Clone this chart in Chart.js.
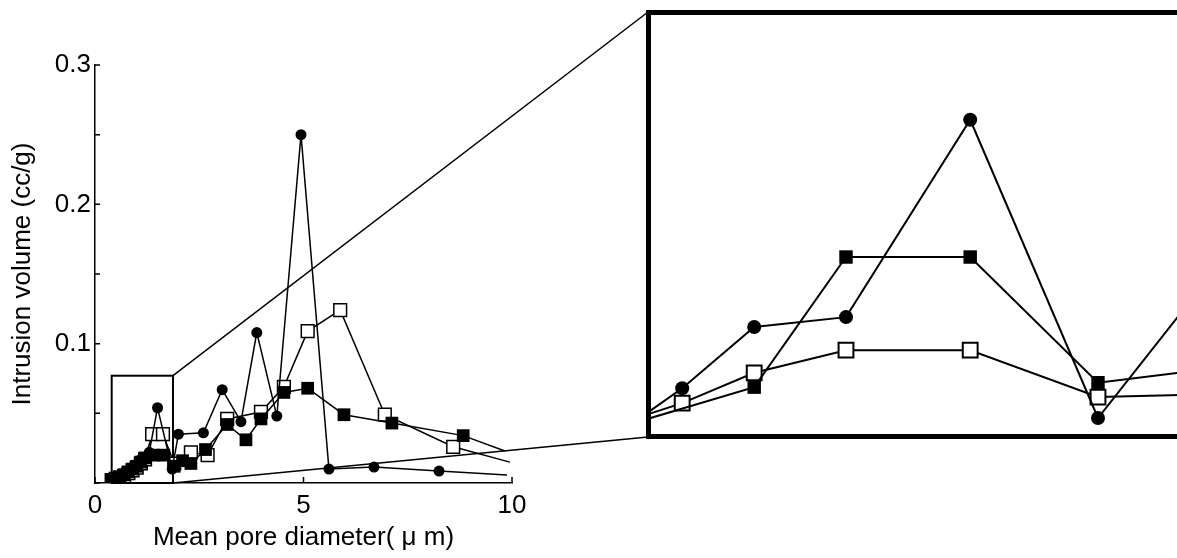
<!DOCTYPE html>
<html>
<head>
<meta charset="utf-8">
<script src="https://cdn.jsdelivr.net/npm/chart.js@4"></script>
<style>
    html, body { margin: 0; padding: 0; background: #fff; width: 1177px; height: 558px; overflow: hidden; position: relative; }
    #main { position: absolute; left: 0; top: 0; }
    #insetBox { position: absolute; left: 646px; top: 10px; width: 640px; height: 419px; border: 5px solid #000; border-right: none; background: #fff; }
    #inset { position: absolute; left: 0; top: 0; }
</style>
</head>
<body>
<canvas id="main" width="1177" height="558"></canvas>
<div id="insetBox"><canvas id="inset" width="600" height="419"></canvas></div>
<script>
// main chart - filled circles
var circleX = [0.4, 0.5, 0.6, 0.7, 0.8, 0.9, 1.0, 1.1, 1.3, 1.5, 1.85, 2.0, 2.6, 3.05, 3.5, 3.88, 4.36, 4.94, 5.61, 6.69, 8.25, 9.88];
var circleY = [0.003, 0.004, 0.005, 0.006, 0.008, 0.010, 0.013, 0.017, 0.022, 0.054, 0.010, 0.035, 0.036, 0.067, 0.044, 0.108, 0.048, 0.250, 0.010, 0.0114, 0.0086, 0.0057];

// main chart - filled squares
var filledX = [0.4, 0.5, 0.6, 0.7, 0.8, 0.9, 1.0, 1.1, 1.2, 1.4, 1.65, 1.9, 2.1, 2.3, 2.65, 3.17, 3.62, 3.98, 4.53, 5.1, 5.97, 7.12, 8.83, 9.83];
var filledY = [0.002, 0.003, 0.004, 0.006, 0.008, 0.010, 0.012, 0.015, 0.018, 0.020, 0.020, 0.012, 0.016, 0.014, 0.024, 0.042, 0.031, 0.046, 0.065, 0.068, 0.049, 0.043, 0.034, 0.023];

// main chart - open squares
var openX = [0.4, 0.5, 0.6, 0.7, 0.8, 0.9, 1.0, 1.1, 1.2, 1.37, 1.63, 1.9, 2.3, 2.7, 3.17, 3.98, 4.53, 5.1, 5.88, 6.95, 8.59, 9.95];
var openY = [0.002, 0.003, 0.004, 0.005, 0.007, 0.009, 0.011, 0.014, 0.017, 0.035, 0.035, 0.014, 0.022, 0.020, 0.046, 0.051, 0.069, 0.109, 0.124, 0.049, 0.026, 0.015];

// zoom box on the main chart
var boxX = [0.40, 1.87];
var boxY = [0, 0.077];

// enlarged panel (schematic)
var insetCircleX = [-0.5, 0.52, 1.72, 3.25, 5.32, 7.45, 9.0];
var insetCircleY = [0.0005, 0.0083, 0.0194, 0.0212, 0.0570, 0.0029, 0.0243];
var insetFilledX = [-0.5, 1.72, 3.25, 5.32, 7.45, 9.0];
var insetFilledY = [0.0013, 0.0085, 0.0321, 0.0321, 0.0093, 0.0114];
var insetOpenX = [-0.5, 0.52, 1.72, 3.25, 5.32, 7.45, 9.0];
var insetOpenY = [0.0020, 0.0056, 0.0111, 0.0152, 0.0152, 0.0067, 0.0071];

function pares(xs, ys) {
    var r = [];
    for (let i = 0; i < xs.length; i++) {
        r.push({ x: xs[i], y: ys[i] });
    }
    return r;
}

// last point of each main series only carries the line to the edge
function raios(n, r) {
    var a = [];
    for (let i = 0; i < n; i++) a.push(i == n - 1 ? 0 : r);
    return a;
}

Chart.defaults.font.family = "'Liberation Sans', Arial, sans-serif";
Chart.defaults.color = '#000';

const ticksInternos = {
    id: 'ticksInternos',
    beforeDatasetsDraw(chart) {
        const ctx = chart.ctx;
        const xs = chart.scales.x;
        const ys = chart.scales.y;
        ctx.save();
        ctx.strokeStyle = '#000';
        ctx.lineWidth = 1.5;
        ctx.beginPath();
        xs.ticks.forEach(function (t) {
            var px = xs.getPixelForValue(t.value);
            ctx.moveTo(px, ys.bottom);
            ctx.lineTo(px, ys.bottom - 6);
        });
        ys.ticks.forEach(function (t) {
            var py = ys.getPixelForValue(t.value);
            ctx.moveTo(xs.left, py);
            ctx.lineTo(xs.left + 5, py);
        });
        ctx.stroke();

        // zoom box
        var x1 = xs.getPixelForValue(boxX[0]);
        var x2 = xs.getPixelForValue(boxX[1]);
        var y1 = ys.getPixelForValue(boxY[1]);
        var y2 = ys.getPixelForValue(boxY[0]);
        ctx.lineWidth = 2;
        ctx.strokeRect(x1, y1, x2 - x1, y2 - y1);

        // lines to the enlarged panel
        var caixa = document.getElementById('insetBox');
        var cx = caixa.offsetLeft + 2;
        var cTop = caixa.offsetTop + 2;
        var cBottom = caixa.offsetTop + caixa.offsetHeight - 2;
        ctx.lineWidth = 1.5;
        ctx.beginPath();
        ctx.moveTo(x2, y1);
        ctx.lineTo(cx, cTop);
        ctx.moveTo(x2, y2);
        ctx.lineTo(cx, cBottom);
        ctx.stroke();
        ctx.restore();
    }
};

new Chart(document.getElementById('main'), {
    type: 'line',
    data: {
        datasets: [
            {
                label: 'circles',
                data: pares(circleX, circleY),
                borderColor: '#000',
                backgroundColor: '#000',
                borderWidth: 1.5,
                pointStyle: 'circle',
                pointRadius: raios(circleX.length, 5.5),
                pointBorderWidth: 0,
                tension: 0,
                order: 0
            },
            {
                label: 'filled squares',
                data: pares(filledX, filledY),
                borderColor: '#000',
                backgroundColor: '#000',
                borderWidth: 1.5,
                pointStyle: 'rect',
                pointRadius: raios(filledX.length, 9),
                pointBorderWidth: 0,
                tension: 0,
                order: 1
            },
            {
                label: 'open squares',
                data: pares(openX, openY),
                borderColor: '#000',
                backgroundColor: '#fff',
                pointBackgroundColor: '#fff',
                borderWidth: 1.5,
                pointStyle: 'rect',
                pointRadius: raios(openX.length, 9),
                pointBorderWidth: 1.5,
                tension: 0,
                order: 2
            }
        ]
    },
    options: {
        responsive: false,
        animation: false,
        events: [],
        layout: { autoPadding: false, padding: { top: 65, right: 665, left: 0, bottom: 0 } },
        plugins: { legend: { display: false }, tooltip: { enabled: false } },
        scales: {
            x: {
                type: 'linear',
                min: 0,
                max: 10,
                grid: { display: false, drawTicks: false },
                border: { display: true, color: '#000', width: 1.5 },
                ticks: { stepSize: 5, padding: 7, font: { size: 26 } },
                title: { display: true, text: 'Mean pore diameter( μ m)', font: { size: 26 }, padding: { top: 0, bottom: 5 } },
                afterFit: function (s) { s.height = 75; }
            },
            y: {
                type: 'linear',
                min: 0,
                max: 0.3,
                grid: { display: false, drawTicks: false },
                border: { display: true, color: '#000', width: 1.5 },
                ticks: {
                    stepSize: 0.05,
                    padding: 4,
                    font: { size: 26 },
                    callback: function (v) {
                        var d = Math.round(v * 100);
                        return (d > 0 && d % 10 == 0) ? (d / 100).toFixed(1) : '';
                    }
                },
                title: { display: true, text: 'Intrusion volume (cc/g)', font: { size: 26 }, padding: { top: 7, bottom: 0 } },
                afterFit: function (s) { s.width = 95; }
            }
        }
    },
    plugins: [ticksInternos]
});

new Chart(document.getElementById('inset'), {
    type: 'line',
    data: {
        datasets: [
            {
                label: 'circles',
                data: pares(insetCircleX, insetCircleY),
                borderColor: '#000',
                backgroundColor: '#000',
                borderWidth: 2,
                pointStyle: 'circle',
                pointRadius: 7,
                pointBorderWidth: 0,
                tension: 0,
                order: 0
            },
            {
                label: 'filled squares',
                data: pares(insetFilledX, insetFilledY),
                borderColor: '#000',
                backgroundColor: '#000',
                borderWidth: 2,
                pointStyle: 'rect',
                pointRadius: 9.5,
                pointBorderWidth: 0,
                tension: 0,
                order: 1
            },
            {
                label: 'open squares',
                data: pares(insetOpenX, insetOpenY),
                borderColor: '#000',
                backgroundColor: '#fff',
                pointBackgroundColor: '#fff',
                borderWidth: 2,
                pointStyle: 'rect',
                pointRadius: 10.5,
                pointBorderWidth: 2,
                tension: 0,
                order: 2
            }
        ]
    },
    options: {
        responsive: false,
        animation: false,
        events: [],
        layout: { autoPadding: false, padding: 0 },
        plugins: { legend: { display: false }, tooltip: { enabled: false } },
        scales: {
            x: { type: 'linear', min: 0, max: 10, display: false },
            y: { type: 'linear', min: 0, max: 0.076, display: false }
        }
    }
});
</script>
</body>
</html>
